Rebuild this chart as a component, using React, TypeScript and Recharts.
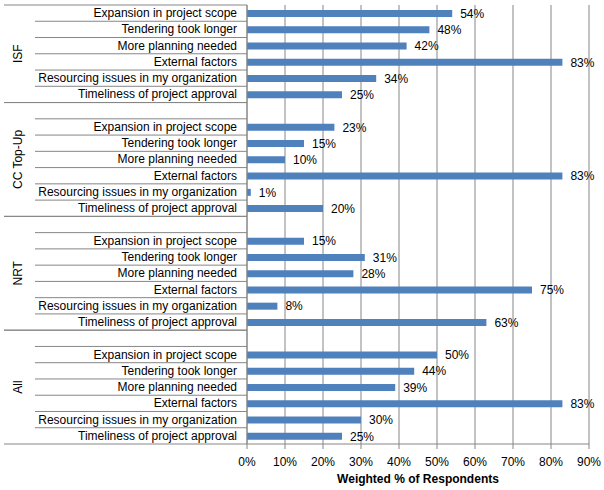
import { BarChart, Bar, XAxis, YAxis, CartesianGrid, LabelList } from 'recharts';

// Delay reasons, listed top to bottom within each program group
const REASONS = [
  'Expansion in project scope',
  'Tendering took longer',
  'More planning needed',
  'External factors',
  'Resourcing issues in my organization',
  'Timeliness of project approval',
];

const GROUPS = ['ISF', 'CC Top-Up', 'NRT', 'All'];

// Weighted % of respondents per group, same order as REASONS
const ISF_VALUES = [54, 48, 42, 83, 34, 25];
const CC_VALUES = [23, 15, 10, 83, 1, 20];
const NRT_VALUES = [15, 31, 28, 75, 8, 63];
const ALL_VALUES = [50, 44, 39, 83, 30, 25];

const X_TICKS = [0, 10, 20, 30, 40, 50, 60, 70, 80, 90];

const WIDTH = 604;
const HEIGHT = 490;
const MARGIN = { top: 5, right: 15, bottom: 16, left: 0 };
const Y_AXIS_WIDTH = 247;
const X_AXIS_HEIGHT = 30;
const FONT = '"Liberation Sans", Arial, sans-serif';
const FONT_SIZE = 12;
const LINE = '#868686';
const BAR = '#4F81BD';

type Row = { key: string; label: string; group: number; first: boolean; value: number | null };

const groupValues = [ISF_VALUES, CC_VALUES, NRT_VALUES, ALL_VALUES];

// Every group after the first opens with an empty spacer row
const rows: Row[] = [];
groupValues.forEach((vals, g) => {
  if (g > 0) rows.push({ key: `${g}-gap`, label: '', group: g, first: true, value: null });
  vals.forEach((v, i) => {
    rows.push({ key: `${g}-${i}`, label: REASONS[i], group: g, first: g === 0 && i === 0, value: v });
  });
});

const groupSize = (g: number) => rows.filter((r) => r.group === g).length;

const ROW_H = (HEIGHT - MARGIN.top - MARGIN.bottom - X_AXIS_HEIGHT) / rows.length;

const CategoryTick = (props: any) => {
  const { y, payload, index } = props;
  const row = rows[index ?? payload.index];
  if (!row) return null;
  const right = Y_AXIS_WIDTH;
  const top = y - ROW_H / 2;
  const bottom = y + ROW_H / 2;
  const isLast = index === rows.length - 1;
  const next = rows[index + 1];
  const boundaryBelow = isLast || (next && next.group !== row.group);
  const mid = top + (groupSize(row.group) * ROW_H) / 2;
  return (
    <g>
      {row.first && <line x1={4} x2={right} y1={top} y2={top} stroke={LINE} />}
      {row.first && (
        <text
          x={22}
          y={mid}
          transform={`rotate(-90, 22, ${mid})`}
          textAnchor="middle"
          fontSize={FONT_SIZE}
          fontFamily={FONT}
          fill="#000"
        >
          {GROUPS[row.group]}
        </text>
      )}
      <line x1={boundaryBelow ? 4 : 35} x2={right} y1={bottom} y2={bottom} stroke={LINE} />
      {row.label && (
        <text x={237} y={y + 4} textAnchor="end" fontSize={FONT_SIZE} fontFamily={FONT} fill="#000">
          {row.label}
        </text>
      )}
    </g>
  );
};

export default function App() {
  return (
    <div style={{ position: 'absolute', left: 0, top: 0, background: '#fff' }}>
      <BarChart width={WIDTH} height={HEIGHT} data={rows} layout="vertical" margin={MARGIN}>
        <CartesianGrid horizontal={false} vertical stroke={LINE} />
        <XAxis
          type="number"
          domain={[0, 90]}
          ticks={X_TICKS}
          tickFormatter={(v) => `${v}%`}
          height={X_AXIS_HEIGHT}
          stroke={LINE}
          tickSize={5}
          tickMargin={8}
          tick={{ fontSize: FONT_SIZE, fontFamily: FONT, fill: '#000' }}
          label={{
            value: 'Weighted % of Respondents',
            position: 'insideBottom',
            offset: -9,
            fontSize: FONT_SIZE,
            fontWeight: 'bold',
            fontFamily: FONT,
            fill: '#000',
          }}
        />
        <YAxis
          type="category"
          dataKey="key"
          width={Y_AXIS_WIDTH}
          interval={0}
          tickLine={false}
          stroke={LINE}
          tick={<CategoryTick />}
        />
        <Bar dataKey="value" fill={BAR} barSize={7} isAnimationActive={false}>
          <LabelList
            dataKey="value"
            position="right"
            offset={8}
            fontSize={FONT_SIZE}
            fontFamily={FONT}
            fill="#000"
            formatter={(v: any) => (v == null ? '' : `${v}%`)}
          />
        </Bar>
      </BarChart>
    </div>
  );
}
